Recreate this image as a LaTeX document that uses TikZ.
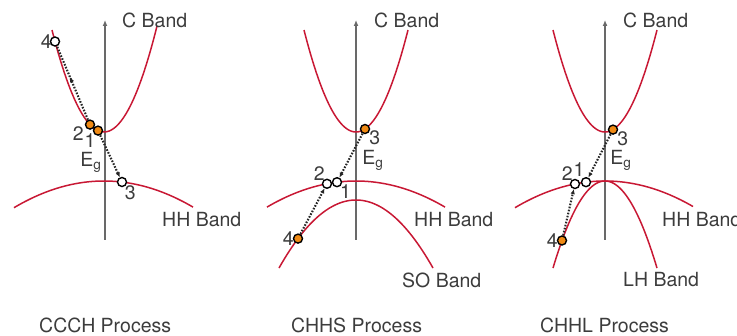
\documentclass[tikz,border=0pt]{standalone}
\usepackage{fontspec}
\setmainfont{TeX Gyre Heros}
\usetikzlibrary{arrows.meta,decorations.markings,positioning}
\definecolor{bandred}{RGB}{200,24,52}
\definecolor{axisgray}{RGB}{105,105,105}
\definecolor{textgray}{RGB}{60,60,60}
\definecolor{elecorange}{RGB}{240,138,20}

\begin{document}
\begin{tikzpicture}[x=1pt, y=-1pt,
    band/.style={draw=bandred, line width=1.5pt},
    axis/.style={draw=axisgray, line width=1.4pt, -{Latex[length=6pt,width=5pt]}},
    hole/.style={circle, draw=black, fill=white, line width=1.4pt, minimum size=9pt, inner sep=0pt},
    elec/.style={circle, draw=black, fill=elecorange, line width=1.4pt, minimum size=9pt, inner sep=0pt},
    jump/.style={draw=black!85, line width=2.1pt, dash pattern=on 1.6pt off 1.5pt, -{Latex[length=5pt,width=4.5pt]}},
    lbl/.style={text=textgray, font=\fontsize{19.5}{22}\selectfont, inner sep=1pt},
    every label/.style={lbl}
]
    \clip (0,0) rectangle (737,336);
    \useasboundingbox (0,0) rectangle (737,336);

    % CCCH
    \draw[axis] (105,240) -- (105,20);
    \draw[band] plot[domain=-52:53, samples=60] ({104+\x},{132-0.0377*\x*\x});
    \draw[band] plot[domain=-90:89, samples=60] ({104+\x},{181+0.0033*\x*\x});
    \node[hole, label={[label distance=-3pt]180:4}] (a4) at (55,41.5) {};
    \node[elec, label={[label distance=0pt]195:2}] (a2) at (90,124.6) {};
    \node[elec, label={[label distance=-3pt]230:1}] (a1) at (98,130.6) {};
    \node[hole, label={[label distance=-2pt]-60:3}] (a3) at (122,182) {};
    \node[lbl] (eg1) at (91,162) {E\textsubscript{g}};
    \draw[jump, -, postaction={decorate},
          decoration={markings, mark=at position 0.58 with {\arrow{Latex[length=5pt,width=4.5pt]}}}] (a2) -- (a4);
    \draw[jump] (a1) -- (a3);
    \node[lbl, anchor=west] (cb1) at (121,20) {C Band};
    \node[lbl, anchor=west] (hh1) at (161,220) {HH Band};
    \node[lbl, anchor=west] (pr1) at (38,325) {CCCH Process};

    % CHHS
    \draw[axis] (356,240) -- (356,20);
    \draw[band] plot[domain=-52:52, samples=60] ({356+\x},{132-0.0377*\x*\x});
    \draw[band] plot[domain=-89:89, samples=60] ({356+\x},{181+0.0033*\x*\x});
    \draw[band] plot[domain=-77:77, samples=60] ({356+\x},{200+0.01147*\x*\x});
    \node[elec, label={[label distance=-2pt]-15:3}] (b3) at (365,129) {};
    \node[hole, label={[label distance=-3pt]-30:1}] (b1) at (337,182.2) {};
    \node[hole, label={[label distance=-3pt]120:2}] (b2) at (327,183.8) {};
    \node[elec, label={[label distance=-2pt]180:4}] (b4) at (298,238.6) {};
    \node[lbl] (eg2) at (373,160) {E\textsubscript{g}};
    \draw[jump] (b3) -- (b1);
    \draw[jump] (b4) -- (b2);
    \node[lbl, anchor=west] (cb2) at (373,20) {C Band};
    \node[lbl, anchor=west] (hh2) at (413,220) {HH Band};
    \node[lbl, anchor=west] (so2) at (401,280) {SO Band};
    \node[lbl, anchor=west] (pr2) at (290,325) {CHHS Process};

    % CHHL
    \draw[axis] (605,240) -- (605,20);
    \draw[band] plot[domain=-52:52, samples=60] ({605+\x},{132-0.0377*\x*\x});
    \draw[band] plot[domain=-90:88, samples=60] ({605+\x},{181+0.0033*\x*\x});
    \draw[band] plot[domain=-52:52, samples=60] ({605+\x},{181+0.0322*\x*\x});
    \node[elec, label={[label distance=-2pt]-15:3}] (c3) at (613,129.6) {};
    \node[hole, label={[label distance=-1pt]95:1}] (c1) at (586,182.2) {};
    \node[hole, label={[label distance=-3pt]120:2}] (c2) at (575,184) {};
    \node[elec, label={[label distance=-2pt]180:4}] (c4) at (562,240.5) {};
    \node[lbl] (eg3) at (621,160) {E\textsubscript{g}};
    \draw[jump] (c3) -- (c1);
    \draw[jump] (c4) -- (c2);
    \node[lbl, anchor=west] (cb3) at (622,20) {C Band};
    \node[lbl, anchor=west] (hh3) at (661,220) {HH Band};
    \node[lbl, anchor=west] (lh3) at (622,280) {LH Band};
    \node[lbl, anchor=west] (pr3) at (539,325) {CHHL Process};
\end{tikzpicture}
\end{document}
